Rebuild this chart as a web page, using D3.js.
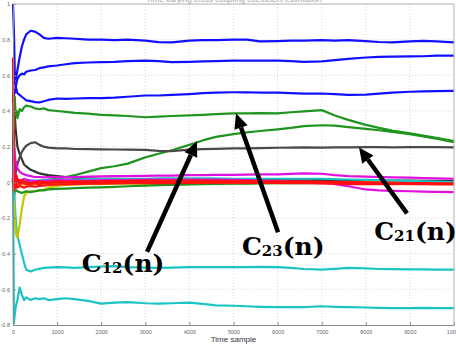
<!DOCTYPE html>
<html>
<head>
<meta charset="utf-8">
<script src="https://cdn.jsdelivr.net/npm/d3@7"></script>
<style>
  html, body { margin: 0; padding: 0; background: #fff; }
  svg { display: block; }
</style>
</head>
<body>
<div id="chart"></div>
<script>
// sample positions (time sample) shared by every series
const samples = [0, 20, 40, 60, 80, 100, 150, 200, 250, 300, 400, 500, 600, 700, 800,
  1000, 1200, 1400, 1700, 2000, 2300, 2600, 3000, 3300, 3600, 4000, 4300, 4600, 5000,
  5300, 5600, 6000, 6300, 6600, 7000, 7300, 7600, 8000, 8300, 8600, 9000, 9300, 9600, 10000];

const darkTransient = [0.0, 0.5, 0.38, 0.3, 0.25, 0.2, 0.16, 0.13, 0.1, 0.09, 0.07, 0.06, 0.05, 0.045, 0.04,
  0.035, 0.03, 0.025, 0.022, 0.02, 0.02, 0.018, 0.018, 0.017, 0.016, 0.016, 0.015, 0.015, 0.014,
  0.014, 0.013, 0.013, 0.012, 0.012, 0.012, 0.011, 0.01, 0.01, 0.01, 0.01, 0.01, 0.009, 0.009, 0.009];
const blue1 = [1.0, 0.85, 0.62, 0.58, 0.6, 0.63, 0.7, 0.76, 0.8, 0.83, 0.85, 0.845, 0.83, 0.81, 0.805,
  0.81, 0.808, 0.805, 0.8, 0.8, 0.797, 0.8, 0.795, 0.786, 0.785, 0.795, 0.797, 0.797, 0.8,
  0.8, 0.79, 0.792, 0.795, 0.795, 0.797, 0.795, 0.797, 0.792, 0.787, 0.785, 0.79, 0.793, 0.79, 0.785];
const blue2 = [0.45, 0.52, 0.5, 0.53, 0.56, 0.58, 0.6, 0.61, 0.605, 0.62, 0.627, 0.63, 0.64, 0.645, 0.65,
  0.655, 0.662, 0.668, 0.672, 0.674, 0.676, 0.68, 0.683, 0.68, 0.674, 0.676, 0.678, 0.68, 0.682,
  0.683, 0.683, 0.683, 0.68, 0.676, 0.678, 0.685, 0.692, 0.7, 0.703, 0.705, 0.706, 0.707, 0.71, 0.71];
const blue3 = [0.6, 0.62, 0.56, 0.54, 0.52, 0.5, 0.49, 0.48, 0.47, 0.46, 0.455, 0.45, 0.448, 0.455, 0.462,
  0.47, 0.468, 0.47, 0.472, 0.472, 0.475, 0.48, 0.487, 0.487, 0.49, 0.495, 0.5, 0.503, 0.505,
  0.505, 0.503, 0.503, 0.5, 0.497, 0.498, 0.495, 0.49, 0.492, 0.497, 0.503, 0.508, 0.51, 0.512, 0.513];
const c23 = [0.0, 0.25, 0.48, 0.38, 0.4, 0.36, 0.41, 0.4, 0.42, 0.43, 0.425, 0.415, 0.41, 0.415, 0.405,
  0.4, 0.395, 0.39, 0.385, 0.378, 0.375, 0.372, 0.365, 0.368, 0.372, 0.375, 0.378, 0.382, 0.387,
  0.387, 0.388, 0.387, 0.393, 0.398, 0.405, 0.375, 0.35, 0.322, 0.305, 0.29, 0.275, 0.262, 0.25, 0.232];
const c12 = [0.0, 0.05, -0.02, 0.0, 0.01, 0.0, -0.01, 0.0, 0.005, 0.01, 0.0, 0.005, 0.01, 0.01, 0.015,
  0.02, 0.03, 0.04, 0.06, 0.08, 0.09, 0.105, 0.14, 0.16, 0.18, 0.21, 0.235, 0.255, 0.27,
  0.28, 0.288, 0.297, 0.305, 0.315, 0.32, 0.318, 0.31, 0.3, 0.292, 0.283, 0.27, 0.258, 0.245, 0.225];
const c21 = [0.0, 0.3, 0.1, 0.05, 0.08, 0.1, 0.14, 0.17, 0.19, 0.205, 0.22, 0.225, 0.21, 0.2, 0.195,
  0.19, 0.19, 0.187, 0.186, 0.185, 0.184, 0.183, 0.182, 0.176, 0.175, 0.183, 0.186, 0.188, 0.19,
  0.19, 0.192, 0.194, 0.195, 0.196, 0.195, 0.196, 0.196, 0.197, 0.197, 0.196, 0.197, 0.198, 0.197, 0.196];
const cyanUpper = [0.1, 0.0, -0.12, -0.2, -0.26, -0.3, -0.35, -0.4, -0.45, -0.49, -0.5, -0.49, -0.485, -0.48, -0.478,
  -0.475, -0.477, -0.48, -0.475, -0.472, -0.47, -0.475, -0.478, -0.48, -0.478, -0.475, -0.476, -0.476, -0.475,
  -0.476, -0.474, -0.476, -0.48, -0.486, -0.49, -0.485, -0.48, -0.483, -0.486, -0.487, -0.488, -0.488, -0.489, -0.49];
const cyanLower = [0.05, -0.79, -0.74, -0.7, -0.68, -0.66, -0.59, -0.63, -0.66, -0.645, -0.66, -0.65, -0.655, -0.65, -0.66,
  -0.655, -0.65, -0.655, -0.665, -0.68, -0.675, -0.672, -0.678, -0.68, -0.678, -0.675, -0.682, -0.69, -0.692,
  -0.695, -0.698, -0.7, -0.7, -0.7, -0.695, -0.698, -0.7, -0.702, -0.704, -0.705, -0.705, -0.704, -0.705, -0.705];
const yellow = [0.0, -0.1, -0.2, -0.27, -0.3, -0.31, -0.24, -0.15, -0.08, -0.06, -0.05, -0.05, -0.045, -0.04, -0.03,
  -0.02, -0.015, -0.012, -0.01, -0.01, -0.008, -0.008, -0.008, -0.01, -0.01, -0.01, -0.008, -0.008, -0.006,
  -0.006, -0.005, -0.004, -0.003, -0.002, 0.0, 0.0, 0.0, 0.0, 0.0, 0.0, 0.0, 0.0, 0.0, 0.0];
const darkGreen = [0.0, -0.08, -0.04, -0.05, -0.045, -0.05, -0.055, -0.06, -0.055, -0.05, -0.055, -0.05, -0.045, -0.045, -0.04,
  -0.037, -0.035, -0.032, -0.03, -0.028, -0.025, -0.022, -0.018, -0.016, -0.014, -0.012, -0.01, -0.009, -0.008,
  -0.007, -0.006, -0.005, -0.004, -0.004, -0.003, -0.003, -0.002, -0.002, -0.002, -0.001, -0.001, 0.0, 0.0, 0.0];
const orange = [0.0, 0.05, 0.0, -0.02, 0.0, -0.01, -0.015, -0.01, -0.012, -0.01, -0.012, -0.01, -0.008, -0.008, -0.006,
  -0.005, -0.005, -0.004, -0.004, -0.004, -0.003, -0.003, -0.003, -0.002, -0.002, -0.002, -0.001, -0.001, 0.0,
  0.0, 0.0, 0.001, 0.002, 0.002, 0.002, 0.002, 0.002, 0.002, 0.001, 0.0, 0.0, -0.002, -0.002, -0.003];
const cyanSmall = [0.1, -0.1, 0.05, 0.02, -0.02, 0.01, 0.005, 0.0, 0.01, 0.005, 0.01, 0.008, 0.01, 0.012, 0.012,
  0.015, 0.015, 0.016, 0.018, 0.018, 0.02, 0.02, 0.02, 0.022, 0.022, 0.022, 0.022, 0.022, 0.02,
  0.02, 0.02, 0.02, 0.02, 0.02, 0.02, 0.018, 0.016, 0.014, 0.012, 0.01, 0.008, 0.006, 0.004, 0.002];
const magenta1 = [0.0, 0.2, 0.15, 0.12, 0.1, 0.08, 0.06, 0.05, 0.045, 0.04, 0.035, 0.03, 0.03, 0.028, 0.03,
  0.03, 0.028, 0.03, 0.032, 0.033, 0.035, 0.035, 0.036, 0.038, 0.038, 0.04, 0.04, 0.042, 0.042,
  0.043, 0.045, 0.045, 0.047, 0.05, 0.048, 0.04, 0.035, 0.032, 0.03, 0.028, 0.026, 0.024, 0.022, 0.02];
const magenta2 = [0.0, 0.1, 0.05, 0.02, 0.04, 0.01, 0.0, 0.01, 0.02, 0.015, 0.01, 0.008, 0.005, 0.008, 0.01,
  0.012, 0.012, 0.01, 0.01, 0.012, 0.012, 0.013, 0.015, 0.015, 0.016, 0.016, 0.016, 0.015, 0.014,
  0.012, 0.01, 0.008, 0.006, 0.004, 0.0, -0.01, -0.022, -0.04, -0.045, -0.048, -0.05, -0.052, -0.054, -0.055];
const red1 = [0.7, 0.05, 0.02, 0.04, 0.03, 0.02, 0.01, 0.015, 0.0, 0.005, -0.005, 0.0, 0.005, 0.0, 0.002,
  0.005, 0.004, 0.006, 0.005, 0.006, 0.008, 0.008, 0.01, 0.01, 0.01, 0.01, 0.01, 0.01, 0.008,
  0.008, 0.006, 0.006, 0.005, 0.005, 0.004, 0.003, 0.002, 0.0, -0.002, -0.003, -0.004, -0.004, -0.005, -0.005];
const red2 = [0.0, -0.05, 0.03, -0.03, -0.01, -0.03, -0.02, -0.025, -0.03, -0.025, -0.02, -0.025, -0.02, -0.018, -0.015,
  -0.012, -0.012, -0.01, -0.008, -0.008, -0.006, -0.005, -0.005, -0.004, -0.004, -0.003, -0.002, -0.002, -0.002,
  -0.002, -0.003, -0.003, -0.004, -0.005, -0.006, -0.008, -0.01, -0.01, -0.01, -0.01, -0.009, -0.008, -0.008, -0.008];
const red3 = [0.0, 0.02, 0.06, 0.0, 0.02, 0.01, -0.01, 0.0, -0.005, -0.01, -0.008, -0.005, -0.01, -0.005, -0.003,
  0.0, 0.0, 0.002, 0.0, 0.0, 0.002, 0.0, 0.002, 0.002, 0.0, 0.0, 0.002, 0.0, 0.0,
  -0.002, 0.0, 0.0, -0.002, -0.002, -0.004, -0.005, -0.006, -0.006, -0.008, -0.008, -0.01, -0.01, -0.012, -0.012];

const xTicks = [0, 1000, 2000, 3000, 4000, 5000, 6000, 7000, 8000, 9000, 10000];
const yTicks = [1, 0.8, 0.6, 0.4, 0.2, 0, -0.2, -0.4, -0.6, -0.8];

// drawing order and colours (later ones on top)
const series = [
  { values: darkTransient, color: '#333333' },
  { values: blue1, color: '#1010ff' },
  { values: blue2, color: '#1010ff' },
  { values: blue3, color: '#1010ff' },
  { values: c23, color: '#1f941f' },
  { values: c12, color: '#1f941f' },
  { values: c21, color: '#4a4a4a' },
  { values: cyanUpper, color: '#1cc4c4' },
  { values: cyanLower, color: '#1cc4c4' },
  { values: yellow, color: '#c4c400' },
  { values: darkGreen, color: '#1f941f' },
  { values: orange, color: '#ff8c00' },
  { values: cyanSmall, color: '#1cc4c4' },
  { values: magenta1, color: '#e010e0' },
  { values: magenta2, color: '#e010e0' },
  { values: red1, color: '#ff1010' },
  { values: red2, color: '#ff1010' },
  { values: red3, color: '#ff1010' }
];

// annotation labels and arrows, in data units
const annotations = [
  { sub: '12', label: [1560, -0.505], tail: [3040, -0.39], tip: [4172, 0.23] },
  { sub: '23', label: [5190, -0.41], tail: [6010, -0.28], tip: [5057, 0.387] },
  { sub: '21', label: [8190, -0.325], tail: [8934, -0.174], tip: [7846, 0.196] }
];

const width = 456, height = 349;
const margin = { top: 4, right: 2, bottom: 24, left: 13 };

const svg = d3.select('#chart').append('svg')
  .attr('width', width)
  .attr('height', height);

const x = d3.scaleLinear().domain([0, 10000]).range([margin.left, width - margin.right]);
const y = d3.scaleLinear().domain([-0.8, 1]).range([height - margin.bottom, margin.top]);

// faint title, mostly outside the view like in the original
svg.append('text')
  .attr('x', 234).attr('y', 1.5)
  .attr('text-anchor', 'middle')
  .style('font-family', 'Liberation Sans, Arial, sans-serif')
  .style('font-size', '8px')
  .style('fill', '#a0a0a0')
  .text('Time varying cross coupling coefficient estimation');

// grid
const grid = svg.append('g').attr('class', 'grid');
grid.selectAll('.vgrid')
  .data(xTicks.slice(1, -1))
  .enter().append('line')
  .attr('x1', d => x(d)).attr('x2', d => x(d))
  .attr('y1', y(1)).attr('y2', y(-0.8))
  .attr('stroke', '#cfcfcf').attr('stroke-width', 0.8)
  .attr('stroke-dasharray', '1,2');
grid.selectAll('.hgrid')
  .data(yTicks.slice(1, -1))
  .enter().append('line')
  .attr('x1', x(0)).attr('x2', x(10000))
  .attr('y1', d => y(d)).attr('y2', d => y(d))
  .attr('stroke', '#cfcfcf').attr('stroke-width', 0.8)
  .attr('stroke-dasharray', '1,2');

// series
const line = d3.line()
  .x((d, i) => x(samples[i]))
  .y(d => y(d));

svg.append('g').attr('class', 'series')
  .selectAll('path')
  .data(series)
  .enter().append('path')
  .attr('fill', 'none')
  .attr('stroke', d => d.color)
  .attr('stroke-width', 2.2)
  .attr('stroke-linejoin', 'round')
  .attr('d', d => line(d.values));

// axes
svg.append('g')
  .attr('transform', `translate(0,${y(-0.8)})`)
  .call(d3.axisBottom(x).tickValues(xTicks).tickFormat(d => String(d)).tickSizeInner(-3).tickSizeOuter(0).tickPadding(5));
svg.append('g')
  .attr('transform', `translate(${x(0)},0)`)
  .call(d3.axisLeft(y).tickValues(yTicks).tickFormat(d => String(d)).tickSizeInner(-3).tickSizeOuter(0).tickPadding(3));

svg.selectAll('.tick text')
  .style('font-family', 'Liberation Sans, Arial, sans-serif')
  .style('font-size', '5.5px')
  .style('fill', '#666');
svg.selectAll('.domain, .tick line')
  .attr('stroke', '#8a8a8a');

// box top and right
svg.append('line')
  .attr('x1', x(0)).attr('x2', x(10000))
  .attr('y1', y(1)).attr('y2', y(1))
  .attr('stroke', '#b0b0b0');
svg.append('line')
  .attr('x1', x(10000)).attr('x2', x(10000))
  .attr('y1', y(1)).attr('y2', y(-0.8))
  .attr('stroke', '#b0b0b0');

svg.append('text')
  .attr('x', (x(0) + x(10000)) / 2).attr('y', 342)
  .attr('text-anchor', 'middle')
  .style('font-family', 'Liberation Sans, Arial, sans-serif')
  .style('font-size', '8px')
  .style('fill', '#333')
  .text('Time sample');

// annotations
const ann = svg.append('g').attr('class', 'annotations');
annotations.forEach(a => {
  const x0 = x(a.tail[0]), y0 = y(a.tail[1]);
  const x1 = x(a.tip[0]), y1 = y(a.tip[1]);
  const ang = Math.atan2(y1 - y0, x1 - x0);
  const headLen = 15, headW = 7;
  const bx = x1 - headLen * Math.cos(ang), by = y1 - headLen * Math.sin(ang);
  ann.append('line')
    .attr('x1', x0).attr('y1', y0)
    .attr('x2', bx).attr('y2', by)
    .attr('stroke', '#000').attr('stroke-width', 4.5);
  const px = -Math.sin(ang), py = Math.cos(ang);
  ann.append('path')
    .attr('d', `M${x1},${y1}L${bx + px * headW},${by + py * headW}L${bx - px * headW},${by - py * headW}Z`)
    .attr('fill', '#000');

  const t = ann.append('text')
    .attr('x', x(a.label[0])).attr('y', y(a.label[1]))
    .style('font-family', 'DejaVu Serif, serif')
    .style('font-weight', 'bold')
    .style('font-size', '25px')
    .style('fill', '#000');
  t.append('tspan').text('C');
  t.append('tspan').attr('dy', 1).style('font-size', '15px').text(a.sub);
  t.append('tspan').attr('dy', -1).text('(n)');
});
</script>
</body>
</html>
